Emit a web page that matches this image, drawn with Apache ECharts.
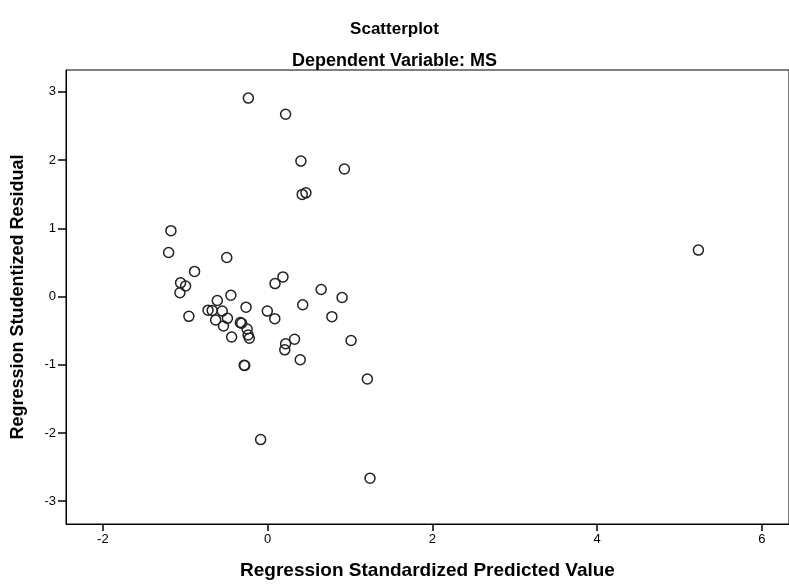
<!DOCTYPE html>
<html>
<head>
<meta charset="utf-8">
<script src="https://cdn.jsdelivr.net/npm/echarts@6/dist/echarts.min.js"></script>
<style>
    html, body { margin: 0; padding: 0; background: #fff; }
    #chart { width: 789px; height: 585px; }
</style>
</head>
<body>
<div id="chart"></div>
<script>
// 回归标准化预测值 (x) / 学生化残差 (y)
var predicted = [
    -0.234, 0.218, 0.404, 0.932, 0.420, 0.465, -1.174, -1.202, -0.496, -0.887,
    -1.057, -0.996, -1.065, -0.446, -0.611, -0.724, -0.673, -0.551, -0.262, -0.956,
    -0.631, -0.488, -0.536, -0.331, -0.315, -0.249, -0.237, -0.222, -0.437, -0.285,
    -0.278, -0.004, 0.087, 0.090, 0.186, 0.426, 0.650, 0.904, 0.780, 0.327,
    0.218, 0.208, 0.396, 1.013, 1.211, -0.085, 1.243, 5.230
];
var residual = [
    2.908, 2.672, 1.985, 1.868, 1.496, 1.519, 0.965, 0.645, 0.571, 0.368,
    0.200, 0.153, 0.054, 0.019, -0.058, -0.200, -0.204, -0.214, -0.156, -0.291,
    -0.345, -0.320, -0.432, -0.383, -0.393, -0.476, -0.564, -0.612, -0.593, -1.008,
    -1.012, -0.214, -0.325, 0.189, 0.287, -0.121, 0.102, -0.015, -0.296, -0.626,
    -0.692, -0.782, -0.928, -0.645, -1.209, -2.098, -2.665, 0.680
];
var xTicks = [-2, 0, 2, 4, 6];
var yTicks = [-3, -2, -1, 0, 1, 2, 3];

var points = [];
for (var i = 0; i < predicted.length; i++) {
    points.push([predicted[i], residual[i]]);
}

var font = 'Liberation Sans';
var myChart = echarts.init(document.getElementById('chart'));

var option = {
    animation: false,
    title: [
        {
            text: 'Scatterplot',
            left: 'center',
            top: 16,
            textStyle: {fontFamily: font, fontSize: 17, fontWeight: 'bold', color: '#000'}
        },
        {
            text: 'Dependent Variable: MS',
            left: 'center',
            top: 47,
            textStyle: {fontFamily: font, fontSize: 18, fontWeight: 'bold', color: '#000'}
        }
    ],
    grid: {
        left: 66,
        right: -2,
        top: 70,
        bottom: 58,
        show: true,
        borderColor: '#000',
        borderWidth: 1
    },
    xAxis: {
        type: 'value',
        min: -2.448,
        max: 6.33,
        name: 'Regression Standardized Predicted Value',
        nameLocation: 'middle',
        nameGap: 37,
        nameTextStyle: {fontFamily: font, fontSize: 19, fontWeight: 'bold', color: '#000'},
        splitLine: {show: false},
        axisLine: {onZero: false, lineStyle: {color: '#000', width: 1}},
        axisTick: {length: 7, customValues: xTicks, lineStyle: {color: '#000', width: 1.5}},
        axisLabel: {customValues: xTicks, margin: 9, fontFamily: font, fontSize: 13, color: '#000'}
    },
    yAxis: {
        type: 'value',
        min: -3.335,
        max: 3.32,
        name: 'Regression Studentized Residual',
        nameLocation: 'middle',
        nameGap: 39,
        nameTextStyle: {fontFamily: font, fontSize: 18, fontWeight: 'bold', color: '#000'},
        splitLine: {show: false},
        axisLine: {onZero: false, lineStyle: {color: '#000', width: 1}},
        axisTick: {length: 8, customValues: yTicks, lineStyle: {color: '#000', width: 1.5}},
        axisLabel: {customValues: yTicks, margin: 10, fontFamily: font, fontSize: 13, color: '#000'}
    },
    series: [
        {
            type: 'scatter',
            symbol: 'circle',
            symbolSize: 10,
            itemStyle: {
                color: 'rgba(255,255,255,0)',
                borderColor: '#222',
                borderWidth: 1.5,
                opacity: 1
            },
            data: points
        }
    ]
};

myChart.setOption(option);
window.addEventListener('resize', function () {
    myChart.resize();
});
</script>
</body>
</html>
